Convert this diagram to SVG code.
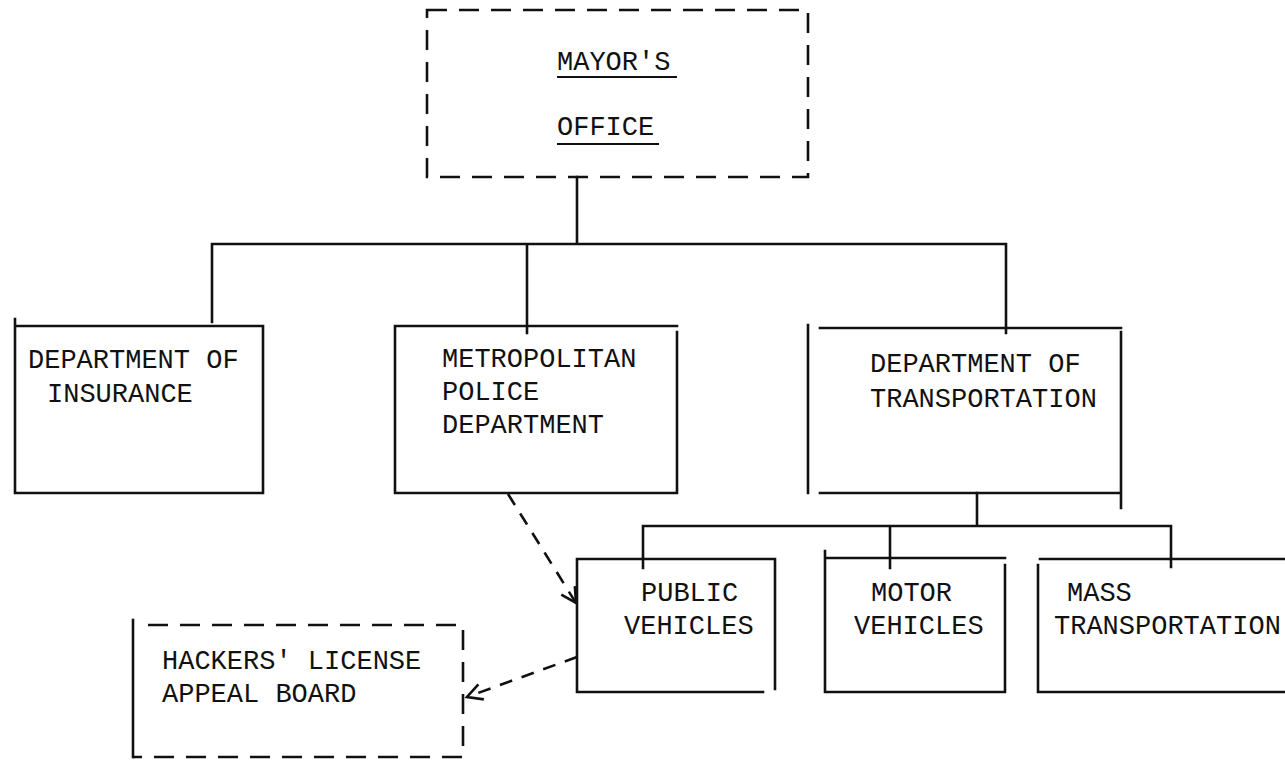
<svg xmlns="http://www.w3.org/2000/svg" width="1285" height="761" viewBox="0 0 1285 761">
<style>
text{font-family:"Liberation Mono","DejaVu Sans Mono",monospace;font-size:27px;fill:#111}
.s{fill:none;stroke:#111;stroke-width:2.6;stroke-linecap:square}
.d{fill:none;stroke:#111;stroke-width:2.6;stroke-dasharray:20 12}
.a{fill:none;stroke:#111;stroke-width:2.6;stroke-dasharray:13 10}
.u{stroke:#111;stroke-width:2}
</style>
<defs>
<marker id="arr" markerUnits="userSpaceOnUse" markerWidth="30" markerHeight="30" viewBox="-20 -15 30 30" refX="0" refY="0" orient="auto">
<path d="M-15 -8 L0 0 L-15 8" fill="none" stroke="#111" stroke-width="2.6"/>
</marker>
</defs>
<rect width="1285" height="761" fill="#fff"/>
<g id="connectors">
<path class="s" d="M577 177 V244 M212 244 H1006 M212 244 V322 M527 244 V333 M1006 244 V333"/>
<path class="s" d="M977 493 V526 M643 526 H1171 M643 526 V568 M890 526 V568 M1171 526 V567"/>
<path class="a" d="M508 494 L576 603" marker-end="url(#arr)"/>
<path class="a" d="M577 657 L467 697" marker-end="url(#arr)"/>
</g>
<g id="mayor">
<rect class="d" x="427" y="10" width="381" height="167"/>
<text x="557" y="70">MAYOR'S</text>
<line class="u" x1="557" y1="77" x2="677" y2="77"/>
<text x="557" y="135">OFFICE</text>
<line class="u" x1="557" y1="144" x2="659" y2="144"/>
</g>
<g id="insurance">
<path class="s" d="M15 319 V493 H263 V326 H15"/>
<text x="28" y="368">DEPARTMENT OF</text>
<text x="47" y="402">INSURANCE</text>
</g>
<g id="police">
<path class="s" d="M395 493 V326 H677 M677 332 V493 H395"/>
<text x="442" y="367">METROPOLITAN</text>
<text x="442" y="400">POLICE</text>
<text x="442" y="433">DEPARTMENT</text>
</g>
<g id="transportation">
<path class="s" d="M808 325 V493 M820 328 H1121 M1121 332 V508 M820 493 H1121"/>
<text x="870" y="372">DEPARTMENT OF</text>
<text x="870" y="407">TRANSPORTATION</text>
</g>
<g id="public">
<path class="s" d="M577 559 H775 V689 M577 559 V692 H763"/>
<text x="641" y="601">PUBLIC</text>
<text x="624" y="634">VEHICLES</text>
</g>
<g id="motor">
<path class="s" d="M825 551 V692 H1005 V565 M825 558 H1005"/>
<text x="871" y="601">MOTOR</text>
<text x="854" y="634">VEHICLES</text>
</g>
<g id="mass">
<path class="s" d="M1040 559 H1285 M1038 565 V692 H1285"/>
<text x="1067" y="601">MASS</text>
<text x="1054" y="634">TRANSPORTATION</text>
</g>
<g id="hackers">
<path class="s" d="M133 620 V757"/>
<path class="d" d="M148 625 H463 V757 H133"/>
<text x="162" y="669">HACKERS' LICENSE</text>
<text x="162" y="702">APPEAL BOARD</text>
</g>
</svg>
